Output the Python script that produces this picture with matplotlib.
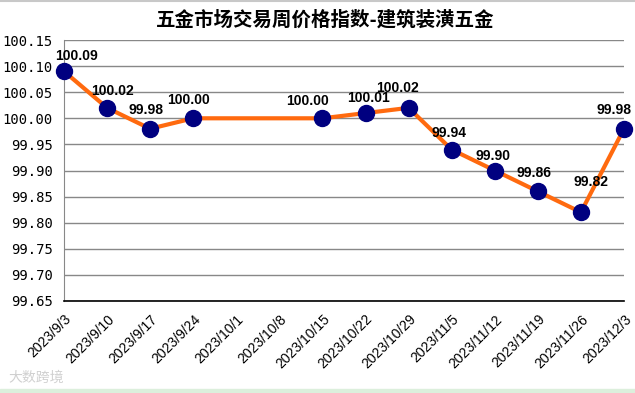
import matplotlib
matplotlib.use('Agg')
import matplotlib.pyplot as plt
import numpy as np

# --- data ---
dates = ['2023/9/3', '2023/9/10', '2023/9/17', '2023/9/24', '2023/10/1',
         '2023/10/8', '2023/10/15', '2023/10/22', '2023/10/29', '2023/11/5',
         '2023/11/12', '2023/11/19', '2023/11/26', '2023/12/3']
index_vals = [100.09, 100.02, 99.98, 100.00, None, None, 100.00, 100.01,
              100.02, 99.94, 99.90, 99.86, 99.82, 99.98]
yticks = [99.65, 99.70, 99.75, 99.80, 99.85, 99.90, 99.95,
          100.00, 100.05, 100.10, 100.15]

# label offsets in pixels (dx, dy) relative to marker
label_offsets = [(13, 15), (5, 17), (-4, 19), (-5, 18), None, None, (-15, 17),
                 (3, 15), (-11, 20), (-3, 17), (-2, 15), (-4, 18), (10, 30),
                 (-10, 19)]

plt.rcParams['font.family'] = ['Liberation Sans', 'Noto Sans CJK SC', 'DejaVu Sans']

DPI = 100
fig = plt.figure(figsize=(6.35, 3.93), dpi=DPI)
ax = fig.add_axes([64 / 635, 1 - 301 / 393, 560 / 635, 261 / 393])

x = np.array([i for i, v in enumerate(index_vals) if v is not None])
y = np.array([v for v in index_vals if v is not None])

ax.plot(x, y, '-', color='#FF6A0F', linewidth=3, zorder=3, clip_on=False)
ax.plot(x, y, 'o', color='#000080', markersize=11.5, zorder=4, clip_on=False)

px2pt = 72 / DPI
for i, v in enumerate(index_vals):
    if v is None:
        continue
    dx, dy = label_offsets[i]
    ax.annotate(f'{v:.2f}', (i, v), textcoords='offset points',
                xytext=(dx * px2pt, dy * px2pt), ha='center', va='center',
                fontsize=10, fontweight='bold', color='black', zorder=5)

ax.set_xlim(0, 13)
ax.set_ylim(99.65, 100.15)
ax.set_yticks(yticks)
ax.set_yticklabels([f'{t:.2f}' for t in yticks], family='DejaVu Sans Mono',
                   fontsize=10)
ax.set_xticks(range(len(dates)))
ax.set_xticklabels(dates, rotation=45, ha='right', va='top',
                   rotation_mode='anchor', fontsize=10)
ax.tick_params(axis='both', length=0)
ax.tick_params(axis='x', pad=8)
ax.tick_params(axis='y', pad=8)

ax.grid(True, axis='y', color='#888888', linewidth=1)
ax.set_axisbelow(True)
ax.spines['top'].set_visible(False)
ax.spines['right'].set_visible(False)
ax.spines['left'].set_color('#888888')
ax.spines['bottom'].set_color('black')
ax.spines['bottom'].set_linewidth(1.2)

fig.text(325 / 635, 1 - 20 / 393, '五金市场交易周价格指数-建筑装潢五金',
         ha='center', va='center', fontsize=14, fontweight='bold',
         family=['Noto Sans CJK SC', 'DejaVu Sans'])

# watermark
fig.text(8 / 635, 1 - 378 / 393, '大数跨境', ha='left', va='center',
         fontsize=10, color='#d0d0d0', family=['Noto Sans CJK SC', 'DejaVu Sans'])

# top border line and bottom sheet strip
fig.add_artist(plt.Line2D([0, 1], [1 - 1 / 393, 1 - 1 / 393], color='#c8c8c8',
                          linewidth=1.5, transform=fig.transFigure))
fig.add_artist(plt.Rectangle((0, 0), 1, 4 / 393, color='#dcefdc',
                             transform=fig.transFigure))

fig.savefig('out.png', dpi=DPI)
